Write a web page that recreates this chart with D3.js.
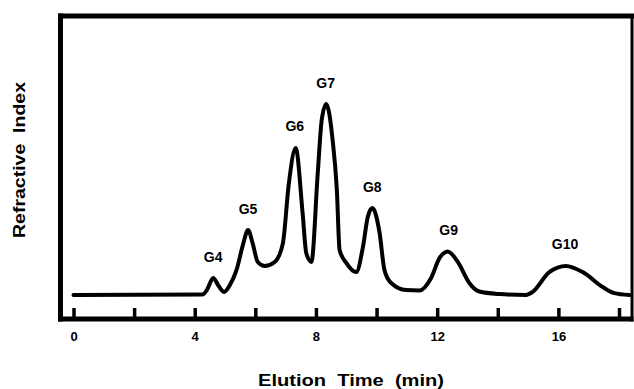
<!DOCTYPE html>
<html>
<head>
<meta charset="utf-8">
<script src="https://cdn.jsdelivr.net/npm/d3@7"></script>
<style>
  html, body { margin: 0; padding: 0; background: #fff; }
  text { font-family: "Liberation Sans", Arial, Helvetica, sans-serif; font-weight: bold; fill: #000; }
</style>
</head>
<body>
<div id="container"></div>
<script>
// elution time (min) and refractive index signal (relative, G7 = 100)
const times = [0, 4.27, 4.40, 4.61, 4.79, 4.97, 5.16, 5.38, 5.59, 5.76, 5.91, 6.08, 6.31, 6.64, 6.91,
  7.10, 7.33, 7.56, 7.68, 7.85, 8.06, 8.19, 8.34, 8.55, 8.69, 8.78, 9.00, 9.33, 9.55, 9.71, 9.86,
  10.10, 10.26, 10.48, 10.98, 11.42, 11.80, 12.08, 12.35, 12.68, 13.06, 13.39, 14.05, 14.93, 15.15,
  15.70, 16.25, 16.80, 17.46, 17.84, 18.34]
const signal = [0, 0.3, 2.6, 8.9, 4.7, 1.6, 5.2, 13.1, 26.2, 34.0, 27.2, 17.3, 15.2, 17.3, 27.2,
  57.6, 77.0, 42.9, 22.0, 17.3, 63.9, 91.6, 100, 81.2, 55.0, 23.6, 16.8, 12.0, 25.1, 40.8, 45.5,
  32.5, 13.1, 6.3, 2.6, 2.4, 8.9, 19.4, 22.8, 17.3, 6.3, 1.8, 0.5, 0, 1.6,
  12.0, 15.2, 12.0, 4.2, 1.0, 0]

// peak labels at the apex of each oligomer peak
const peakNames = ['G4', 'G5', 'G6', 'G7', 'G8', 'G9', 'G10']
const peakTimes = [4.61, 5.76, 7.30, 8.32, 9.86, 12.38, 16.22]
const peakHeights = [8.9, 34.0, 77.0, 100, 45.5, 22.8, 15.2]

const xTicks = [0, 2, 4, 6, 8, 10, 12, 14, 16, 18]
const xTickLabels = [0, 4, 8, 12, 16]

const width = 634
const height = 389
const frame = { left: 60.5, right: 632, top: 16, bottom: 319 }

const x = d3.scaleLinear().domain([0, 18]).range([73.5, 619])
const y = d3.scaleLinear().domain([0, 100]).range([295, 104])

const svg = d3.select('#container')
  .append('svg')
  .attr('xmlns', 'http://www.w3.org/2000/svg')
  .attr('width', width)
  .attr('height', height)

svg.append('rect')
  .attr('width', width)
  .attr('height', height)
  .attr('fill', '#fff')

// ticks point up into the plot from the bottom frame line
const xAxis = d3.axisBottom(x)
  .tickValues(xTicks)
  .tickSize(-11)
  .tickPadding(13)
  .tickFormat(d => xTickLabels.includes(d) ? d : '')

const gx = svg.append('g')
  .attr('transform', `translate(0,${frame.bottom})`)
  .call(xAxis)
gx.select('.domain').remove()
gx.selectAll('.tick line')
  .attr('stroke', '#000')
  .attr('stroke-width', 3.5)
gx.selectAll('.tick text')
  .attr('font-size', 13)
  .style('font-family', '"Liberation Sans", Arial, sans-serif')
  .style('font-weight', 'bold')

// frame, heavier on left / top / bottom
const frameLines = [
  { x1: frame.left, y1: frame.top - 2.5, x2: frame.left, y2: frame.bottom + 2.5, w: 5 },
  { x1: frame.left - 2.5, y1: frame.top, x2: width, y2: frame.top, w: 5 },
  { x1: frame.left - 2.5, y1: frame.bottom, x2: frame.right + 1.5, y2: frame.bottom, w: 5 },
  { x1: frame.right, y1: frame.top, x2: frame.right, y2: frame.bottom + 2.5, w: 3 }
]
svg.selectAll('.frame')
  .data(frameLines)
  .enter().append('line')
  .attr('class', 'frame')
  .attr('x1', d => d.x1)
  .attr('y1', d => d.y1)
  .attr('x2', d => d.x2)
  .attr('y2', d => d.y2)
  .attr('stroke', '#000')
  .attr('stroke-width', d => d.w)

const trace = times.map((t, i) => ({ t: t, v: signal[i] }))
const line = d3.line()
  .x(d => x(d.t))
  .y(d => y(d.v))
  .curve(d3.curveMonotoneX)

svg.append('path')
  .datum(trace)
  .attr('d', line)
  .attr('fill', 'none')
  .attr('stroke', '#000')
  .attr('stroke-width', 4)
  .attr('stroke-linejoin', 'round')
  .attr('stroke-linecap', 'round')

svg.selectAll('.peak-label')
  .data(peakNames)
  .enter().append('text')
  .attr('class', 'peak-label')
  .attr('x', (d, i) => x(peakTimes[i]))
  .attr('y', (d, i) => y(peakHeights[i]) - 16.5)
  .attr('text-anchor', 'middle')
  .attr('font-size', 14)
  .text(d => d)

svg.append('text')
  .attr('x', 351)
  .attr('y', 386)
  .attr('text-anchor', 'middle')
  .attr('font-size', 16)
  .attr('textLength', 186)
  .attr('lengthAdjust', 'spacingAndGlyphs')
  .style('white-space', 'pre')
  .text('Elution  Time  (min)')

svg.append('text')
  .attr('transform', 'translate(25,160) rotate(-90)')
  .attr('text-anchor', 'middle')
  .attr('font-size', 17)
  .attr('textLength', 156)
  .attr('lengthAdjust', 'spacingAndGlyphs')
  .style('white-space', 'pre')
  .text('Refractive  Index')
</script>
</body>
</html>
